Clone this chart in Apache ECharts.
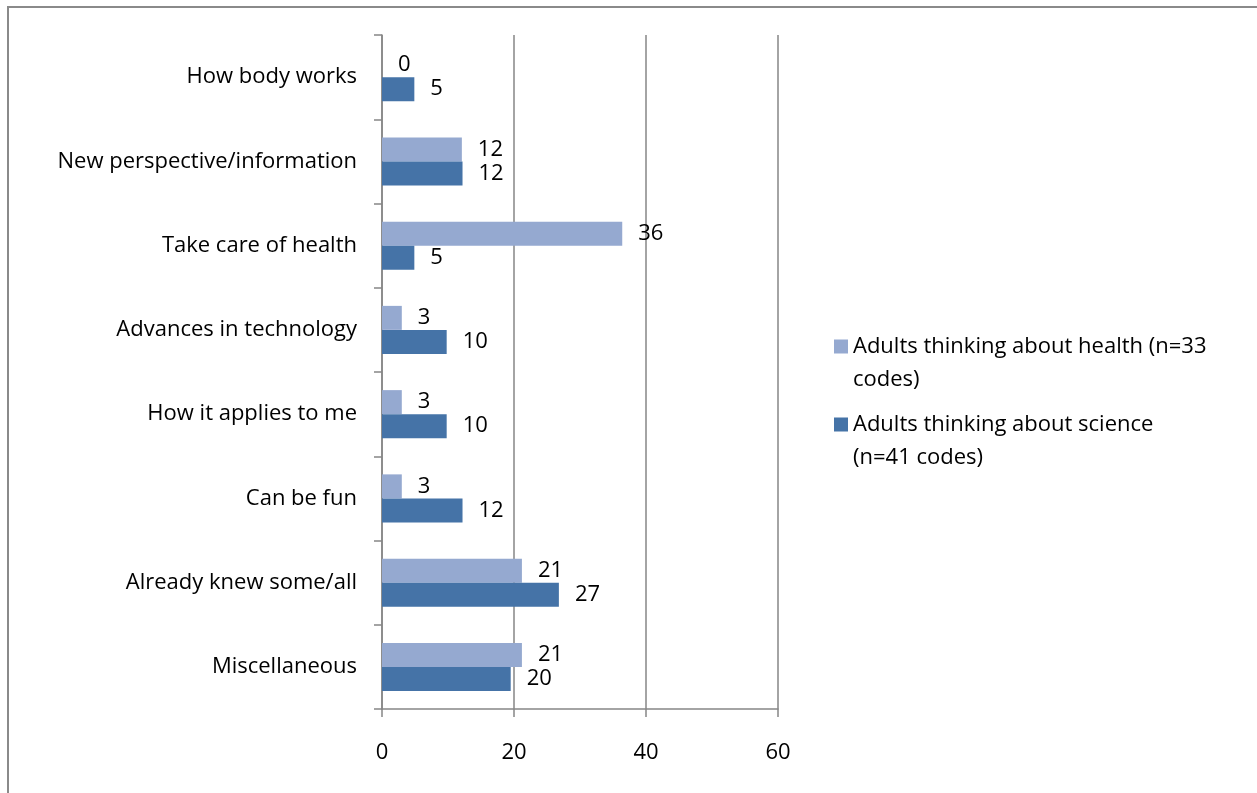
<!DOCTYPE html>
<html>
<head>
<meta charset="utf-8">
<script src="https://cdn.jsdelivr.net/npm/echarts@6/dist/echarts.min.js"></script>
<style>
  html, body { margin: 0; padding: 0; background: #fff; }
  #chart { width: 1257px; height: 793px; }
</style>
</head>
<body>
<div id="chart"></div>
<script>
// categories, top to bottom
const categories = [
  'How body works',
  'New perspective/information',
  'Take care of health',
  'Advances in technology',
  'How it applies to me',
  'Can be fun',
  'Already knew some/all',
  'Miscellaneous'
]
// percent of codes (labels show rounded values)
const healthValues = [0, 12.1, 36.4, 3.0, 3.0, 3.0, 21.2, 21.2]
const scienceValues = [4.9, 12.2, 4.9, 9.8, 9.8, 12.2, 26.8, 19.5]
const seriesNames = [
  'Adults thinking about health (n=33 codes)',
  'Adults thinking about science (n=41 codes)'
]
// how the legend wraps each name
const legendText = {
  'Adults thinking about health (n=33 codes)': 'Adults thinking about health (n=33\ncodes)',
  'Adults thinking about science (n=41 codes)': 'Adults thinking about science\n(n=41 codes)'
}

const font = 'Open Sans'
const fontSize = 22
const axisGray = '#868686'

const barLabel = {
  show: true,
  position: 'right',
  distance: 16,
  color: '#000',
  fontSize: fontSize,
  fontFamily: font,
  padding: [3, 0, 0, 0],
  formatter: p => Math.round(p.value)
}

const options = {
  animation: false,
  textStyle: { fontFamily: font },
  grid: { left: 382, right: 479, top: 35, bottom: 84 },
  graphic: [{
    type: 'rect',
    shape: { x: 8, y: 7, width: 1400, height: 1000 },
    style: { fill: 'none', stroke: '#8a8a8a', lineWidth: 2 },
    silent: true
  }],
  legend: {
    orient: 'vertical',
    left: 834,
    top: 297,
    padding: 0,
    itemGap: -21,
    icon: 'rect',
    itemWidth: 14,
    itemHeight: 14,
    // leading blank line keeps the icon level with the first text line
    formatter: name => '\n' + legendText[name],
    textStyle: {
      fontSize: fontSize,
      fontFamily: font,
      color: '#000',
      lineHeight: 33
    },
    data: seriesNames
  },
  xAxis: {
    type: 'value',
    min: 0,
    max: 60,
    interval: 20,
    axisLine: { show: true, lineStyle: { color: axisGray, width: 1.5 } },
    axisTick: { show: true, length: 8, lineStyle: { color: axisGray, width: 1.5 } },
    axisLabel: { color: '#000', fontSize: fontSize, fontFamily: font, margin: 33 },
    splitLine: { show: true, lineStyle: { color: axisGray, width: 1.5 } }
  },
  yAxis: {
    type: 'category',
    inverse: true,
    data: categories,
    axisLine: { show: true, lineStyle: { color: axisGray, width: 1.5 } },
    axisTick: { show: true, length: 8, lineStyle: { color: axisGray, width: 1.5 } },
    axisLabel: { color: '#000', fontSize: fontSize, fontFamily: font, margin: 25, padding: [3, 0, 0, 0] }
  },
  series: [
    {
      name: seriesNames[0],
      type: 'bar',
      data: healthValues,
      barWidth: 24,
      barGap: '0%',
      itemStyle: { color: '#95a9d0' },
      label: barLabel
    },
    {
      name: seriesNames[1],
      type: 'bar',
      data: scienceValues,
      barWidth: 24,
      barGap: '0%',
      itemStyle: { color: '#4573a7' },
      label: barLabel
    }
  ]
}

const chart = echarts.init(document.getElementById('chart'))
chart.setOption(options)
</script>
</body>
</html>
